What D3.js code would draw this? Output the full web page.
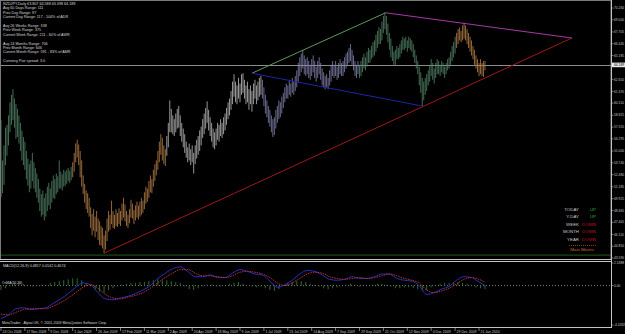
<!DOCTYPE html>
<html><head><meta charset="utf-8">
<script src="https://cdn.jsdelivr.net/npm/d3@7"></script>
<style>
html,body{margin:0;padding:0;background:#000;}
svg{display:block;font-family:"Liberation Sans",Arial,sans-serif;}
</style></head><body>
<script>
// NZDJPY daily, one value per bar
const highs = [
  58.3, 54.0, 55.6, 57.5, 57.8, 58.8, 60.2, 61.0, 61.6, 60.6,
  60.0, 59.5, 58.8, 58.0, 57.2, 56.5, 56.0, 55.0, 54.2, 53.6,
  54.0, 54.8, 53.8, 53.2, 52.6, 52.0, 51.0, 50.4, 50.8, 50.0,
  50.5, 51.2, 51.6, 51.0, 51.8, 52.4, 52.0, 52.6, 52.3, 54.0,
  52.8, 52.5, 53.0, 52.8, 53.0, 53.2, 52.9, 53.3, 53.8, 54.8,
  55.8, 56.2, 55.7, 55.0, 54.0, 52.4, 51.5, 50.8, 50.5, 50.0,
  49.0, 48.3, 48.8, 48.0, 48.6, 47.8, 47.5, 47.0, 46.8, 46.0,
  46.5, 47.8, 48.6, 48.2, 49.7, 48.6, 48.2, 48.8, 48.4, 48.9,
  48.6, 49.4, 50.0, 49.3, 48.6, 48.2, 48.8, 49.8, 49.4, 48.7,
  49.2, 49.6, 49.2, 49.6, 50.0, 49.7, 50.6, 51.2, 51.0, 51.8,
  52.4, 52.0, 53.0, 53.6, 54.0, 55.0, 56.0, 56.8, 56.4, 55.6,
  55.2, 56.6, 58.0, 60.4, 59.5, 58.8, 58.4, 59.0, 59.5, 59.8,
  58.8, 58.0, 57.4, 56.8, 56.0, 55.4, 55.8, 55.2, 55.6, 54.8,
  55.6, 56.2, 56.6, 57.2, 57.6, 58.4, 59.0, 59.6, 60.3, 59.4,
  58.6, 58.0, 57.4, 57.0, 57.4, 58.0, 57.8, 58.4, 58.0, 58.6,
  59.0, 59.6, 60.2, 60.6, 61.4, 62.4, 63.2, 62.4, 62.0, 62.8,
  62.2, 63.2, 63.3, 62.6, 62.0, 62.4, 61.6, 62.0, 61.4, 62.2,
  62.6, 62.0, 62.4, 62.8, 63.0, 62.6, 61.8, 61.0, 60.4, 59.8,
  59.4, 58.8, 58.4, 58.6, 59.4, 59.8, 60.4, 60.2, 60.8, 61.2,
  61.8, 62.2, 62.0, 62.6, 62.2, 62.8, 62.4, 63.0, 63.6, 64.4,
  65.0, 65.4, 65.8, 65.2, 64.8, 65.0, 64.6, 64.2, 64.8, 65.2,
  64.6, 64.0, 64.6, 65.0, 64.4, 63.8, 63.4, 63.0, 63.2, 62.8,
  63.6, 64.2, 64.6, 64.2, 64.6, 64.0, 64.4, 64.8, 64.4, 64.6,
  65.0, 65.4, 65.6, 66.0, 66.4, 65.8, 65.2, 64.6, 64.2, 64.6,
  64.2, 64.6, 65.0, 65.4, 65.0, 65.6, 66.0, 65.8, 66.2, 66.6,
  66.8, 67.4, 67.8, 68.2, 68.0, 68.8, 69.4, 69.8, 69.4, 68.6,
  67.6, 67.0, 66.2, 65.6, 65.8, 66.2, 66.0, 66.4, 66.8, 67.2,
  67.0, 67.2, 66.8, 67.2, 67.0, 66.8, 66.4, 65.8, 65.2, 64.6,
  64.0, 63.4, 62.8, 62.4, 62.8, 63.2, 63.6, 64.2, 64.8, 64.4,
  63.8, 64.4, 64.8, 64.6, 64.2, 64.6, 64.4, 64.0, 64.4, 64.8,
  65.0, 65.6, 66.2, 66.6, 67.2, 67.6, 68.0, 68.2, 67.8, 68.4,
  68.7, 68.4, 68.0, 67.6, 67.2, 66.8, 66.2, 65.8, 65.2, 64.8,
  64.4, 64.8, 64.4, 64.6, 64.6
]
const lows = [
  50.1, 50.5, 51.4, 53.5, 54.5, 55.6, 57.0, 57.8, 58.3, 57.5,
  56.3, 56.5, 55.8, 55.0, 54.0, 53.5, 53.0, 52.0, 51.3, 50.6,
  51.0, 51.8, 51.0, 50.6, 50.0, 49.5, 48.6, 48.0, 48.2, 47.6,
  48.0, 48.6, 49.2, 48.8, 49.5, 50.0, 49.9, 50.4, 50.6, 51.0,
  51.0, 50.8, 51.2, 51.3, 51.5, 51.8, 51.6, 51.9, 52.2, 52.8,
  53.8, 54.3, 53.5, 52.2, 51.2, 50.4, 49.5, 48.8, 48.4, 48.0,
  46.8, 46.0, 46.5, 45.8, 46.4, 45.5, 45.0, 44.9, 44.6, 44.1,
  44.5, 45.4, 46.4, 46.6, 47.2, 46.8, 46.7, 47.0, 46.9, 47.2,
  47.0, 47.6, 47.9, 47.5, 47.0, 46.8, 47.3, 47.9, 47.8, 47.2,
  47.6, 47.9, 47.7, 48.0, 48.2, 48.4, 48.8, 49.4, 49.6, 50.0,
  50.6, 50.5, 51.2, 51.8, 52.4, 53.0, 53.8, 54.6, 54.0, 53.6,
  53.4, 54.5, 55.4, 57.0, 57.0, 56.8, 56.6, 57.0, 57.4, 57.5,
  56.6, 56.0, 55.4, 54.8, 54.3, 53.8, 54.0, 53.5, 53.8, 52.6,
  53.6, 54.2, 54.6, 55.0, 55.6, 56.4, 56.8, 57.4, 58.0, 57.2,
  56.6, 56.0, 55.4, 55.2, 55.6, 56.2, 56.0, 56.6, 56.4, 56.8,
  57.2, 57.8, 58.4, 58.8, 59.4, 60.0, 60.8, 60.2, 60.0, 60.6,
  60.2, 61.0, 61.2, 60.6, 60.0, 60.2, 59.4, 60.0, 59.2, 60.0,
  60.6, 60.0, 60.4, 60.8, 61.0, 60.6, 59.8, 59.0, 58.6, 58.0,
  57.6, 57.0, 56.5, 56.7, 57.4, 58.0, 58.4, 58.6, 59.0, 59.6,
  60.2, 60.6, 60.6, 61.0, 60.8, 61.2, 61.0, 61.4, 61.8, 62.4,
  63.0, 63.4, 63.8, 63.2, 63.0, 63.2, 62.8, 62.6, 63.0, 63.4,
  62.8, 62.4, 62.8, 63.2, 62.6, 62.0, 61.8, 61.6, 61.8, 61.6,
  62.0, 62.4, 63.0, 62.8, 63.0, 62.6, 62.8, 63.2, 63.0, 63.0,
  63.4, 63.8, 64.2, 64.4, 64.6, 64.2, 63.6, 63.0, 62.8, 63.2,
  62.8, 63.0, 63.4, 63.8, 63.6, 64.0, 64.4, 64.4, 64.8, 65.0,
  65.2, 65.6, 66.0, 66.4, 66.4, 66.8, 67.6, 68.0, 67.4, 66.6,
  65.8, 65.0, 64.6, 64.2, 64.2, 64.8, 64.8, 65.0, 65.4, 65.8,
  65.8, 66.0, 65.6, 66.0, 65.8, 65.6, 65.0, 64.4, 63.8, 63.2,
  62.0, 61.2, 59.8, 60.4, 61.0, 61.4, 62.0, 62.4, 63.0, 62.6,
  62.2, 62.8, 63.2, 63.2, 63.0, 63.4, 63.2, 62.8, 63.2, 63.6,
  63.8, 64.2, 64.6, 65.0, 65.4, 66.0, 66.4, 66.8, 66.6, 66.8,
  67.0, 66.8, 66.4, 66.0, 65.6, 65.2, 64.8, 64.2, 63.8, 63.4,
  63.0, 63.2, 63.0, 62.9, 63.6
]
const lastPrice = 64.189
const supportLevel = 43.9

// bar colouring regimes (start bar, state)
const regimeStart = [0, 48, 111, 175, 240, 305]
const regimeState = ['up', 'down', 'range', 'pullback', 'up', 'down']

// trend lines as [bar, price] pairs
const trendRed = [[69, 44.1], [382.2, 67.06]]
const trendPurple = [[257.5, 69.75], [382.2, 67.06]]
const trendGreen = [[168, 63.3], [257.5, 69.75]]
const trendBlue = [[168, 63.3], [282, 59.8]]

// x axis labels, one every 16 bars
const dateLabels = ['24 Oct 2008', '17 Nov 2008', '9 Dec 2008', '1 Jan 2009', '26 Jan 2009',
  '17 Feb 2009', '11 Mar 2009', '2 Apr 2009', '24 Apr 2009', '18 May 2009', '9 Jun 2009',
  '1 Jul 2009', '23 Jul 2009', '14 Aug 2009', '7 Sep 2009', '29 Sep 2009', '21 Oct 2009',
  '12 Nov 2009', '4 Dec 2009', '29 Dec 2009', '21 Jan 2010']
const priceTicks = ['70.260', '69.000', '67.705', '66.445', '65.185', '62.650', '61.370',
  '60.110', '58.815', '57.555', '56.295', '55.000', '53.740', '52.480', '51.185', '49.925',
  '48.665', '47.405', '46.110', '44.850', '43.590']

// MACD readings every 5 bars
const macdBars = [0, 5, 10, 15, 20, 25, 30, 35, 40, 45, 50, 55, 60, 65, 70, 75, 80, 85, 90, 95,
  100, 105, 110, 115, 120, 125, 130, 135, 140, 145, 150, 155, 160, 165, 170, 175, 180, 185, 190, 195,
  200, 205, 210, 215, 220, 225, 230, 235, 240, 245, 250, 255, 260, 265, 270, 275, 280, 285, 290, 295,
  300, 305, 310, 315, 320, 324]
const macdMain = [-3.7, -3.3, -2.6, -2.5, -2.7, -2.6, -2.5, -2.0, -1.5, -0.9,
  -0.2, 0.3, 0.1, -0.8, -1.5, -1.6, -1.4, -1.2, -0.9, -0.5,
  0.0, 0.8, 1.4, 1.9, 2.1, 1.6, 1.0, 1.0, 1.2, 0.9,
  0.9, 1.4, 1.8, 1.6, 1.3, 1.2, 0.5, -0.2, 0.1, 0.6,
  1.3, 1.7, 1.6, 1.2, 0.7, 0.6, 0.7, 1.0, 0.8, 0.8,
  1.0, 1.3, 1.3, 0.8, 0.6, 0.5, 0.0, -1.0, -0.8, -0.4,
  -0.1, 0.6, 1.0, 0.9, 0.4, 0.0]
const macdSignal = [-3.2, -3.3, -3.0, -2.7, -2.6, -2.6, -2.6, -2.3, -1.9, -1.4,
  -0.8, -0.2, 0.1, -0.3, -1.0, -1.4, -1.5, -1.3, -1.1, -0.8,
  -0.3, 0.3, 0.9, 1.4, 1.8, 1.8, 1.4, 1.1, 1.1, 1.0,
  0.9, 1.1, 1.5, 1.6, 1.5, 1.3, 0.9, 0.3, 0.0, 0.3,
  0.8, 1.3, 1.5, 1.4, 1.0, 0.8, 0.7, 0.8, 0.9, 0.8,
  0.9, 1.1, 1.3, 1.1, 0.8, 0.6, 0.3, -0.5, -0.8, -0.6,
  -0.3, 0.2, 0.7, 0.9, 0.7, 0.4]
// histogram readings every 3 bars
const histStep = 3
const macdHist = [-0.5, -0.3, 0.1, 0.4, 0.4, 0.2, 0.0, -0.1, 0.0, 0.1,
  0.1, 0.3, 0.4, 0.5, 0.6, 0.7, 0.8, 0.8, 0.6, 0.3,
  0.0, -0.4, -0.7, -0.8, -0.5, -0.3, -0.1, 0.1, 0.2, 0.3,
  0.3, 0.4, 0.4, 0.5, 0.6, 0.7, 0.6, 0.6, 0.5, 0.4,
  0.3, -0.1, -0.4, -0.5, -0.3, -0.1, 0.1, 0.1, -0.1, -0.1,
  0.0, 0.2, 0.3, 0.4, 0.2, 0.0, -0.1, -0.2, -0.1, -0.3,
  -0.5, -0.6, -0.4, 0.0, 0.3, 0.4, 0.5, 0.5, 0.4, 0.2,
  0.1, -0.1, -0.3, -0.4, -0.3, -0.2, 0.0, 0.1, 0.2, 0.1,
  -0.1, 0.0, 0.0, 0.1, 0.2, 0.2, 0.1, -0.1, -0.3, -0.3,
  -0.2, -0.2, -0.3, -0.4, -0.6, -0.5, -0.2, 0.0, 0.2, 0.3,
  0.3, 0.4, 0.4, 0.3, 0.2, 0.0, -0.2, -0.3, -0.4]

const infoLines = ['NZDJPY,Daily  63.807 64.588 63.398 64.189', 'Avg 60 Days Range: 111',
  'Prev Day Range: 97', 'Current Day Range: 117 - 104% of ADR', '',
  'Avg 26 Weeks Range: 338', 'Prev Week Range: 375', 'Current Week Range: 211 - 60% of AWR', '',
  'Avg 24 Months Range: 706', 'Prev Month Range: 646', 'Current Month Range: 591 - 83% of AMR', '',
  'Currency Pair spread: 3.0']
const periods = ['TODAY', 'Y-DAY', 'WEEK', 'MONTH', 'YEAR']
const periodDir = ['UP', 'UP', 'DOWN', 'DOWN', 'DOWN']

const w = 625
const h = 334
const right = 611
const mainTop = 1
const mainBottom = 259
const subTop = 261
const subBottom = 327

const regimeColor = { up: '#54886a', down: '#b98048', range: '#bcbcbc', pullback: '#8484b0' }
const fg = '#c4c4c4'

const svg = d3.select('body').append('svg')
  .attr('width', w)
  .attr('height', h)

svg.append('rect').attr('width', w).attr('height', h).attr('fill', '#000')

const x = d3.scaleLinear().domain([0, 320]).range([1, 479])
const y = d3.scaleLinear().domain([43.59, 70.26]).range([258, 8])
const ym = d3.scaleLinear().domain([-4.4332, 2.5388]).range([325, 263])

function stateOf (i) {
  let s = regimeState[0]
  regimeStart.forEach((b, k) => { if (i >= b) s = regimeState[k] })
  return s
}

// clip for the two panels
const defs = svg.append('defs')
defs.append('clipPath').attr('id', 'clipMain')
  .append('rect').attr('x', 0).attr('y', mainTop).attr('width', right).attr('height', mainBottom - mainTop)
defs.append('clipPath').attr('id', 'clipSub')
  .append('rect').attr('x', 0).attr('y', subTop).attr('width', right).attr('height', subBottom - subTop)

const main = svg.append('g').attr('clip-path', 'url(#clipMain)')

// horizontal levels
main.append('line')
  .attr('x1', 0).attr('x2', right)
  .attr('y1', y(supportLevel)).attr('y2', y(supportLevel))
  .attr('stroke', '#1e5a1e').attr('stroke-width', 1)

main.append('line')
  .attr('x1', 0).attr('x2', right)
  .attr('y1', Math.round(y(lastPrice)) + 0.5).attr('y2', Math.round(y(lastPrice)) + 0.5)
  .attr('stroke', '#8c8c8c').attr('stroke-width', 1)

// price bars
main.append('g').selectAll('line')
  .data(highs.map((hi, i) => ({ i, hi, lo: lows[i] })))
  .join('line')
  .attr('x1', d => x(d.i)).attr('x2', d => x(d.i))
  .attr('y1', d => y(d.hi)).attr('y2', d => y(d.lo))
  .attr('stroke', d => regimeColor[stateOf(d.i)])
  .attr('stroke-width', 0.8)

// trend lines
const tl = d3.line().x(d => x(d[0])).y(d => y(d[1]))
const trends = [[trendRed, '#a01818'], [trendPurple, '#a838a8'], [trendGreen, '#5c985c'], [trendBlue, '#2222a8']]
trends.forEach(t => {
  main.append('path').attr('d', tl(t[0]))
    .attr('stroke', t[1]).attr('stroke-width', 1).attr('fill', 'none')
})

// info text top-left
svg.append('g').selectAll('text')
  .data(infoLines)
  .join('text')
  .attr('x', 3).attr('y', (d, i) => 5 + i * 4.4)
  .attr('font-size', 3.7).attr('fill', '#d8d8d8')
  .text(d => d)

// TODAY/Y-DAY legend
const lg = svg.append('g').attr('font-size', 4.4)
lg.selectAll('text.p').data(periods).join('text')
  .attr('class', 'p')
  .attr('x', 579).attr('y', (d, i) => 211 + i * 7.4)
  .attr('text-anchor', 'end').attr('fill', '#c8c8c8')
  .text(d => d)
lg.selectAll('text.d').data(periodDir).join('text')
  .attr('class', 'd')
  .attr('x', 596).attr('y', (d, i) => 211 + i * 7.4)
  .attr('text-anchor', 'end')
  .attr('fill', d => d === 'UP' ? '#2fa82f' : '#c41818')
  .text(d => d)
lg.append('line').attr('x1', 569).attr('x2', 597).attr('y1', 245.5).attr('y2', 245.5)
  .attr('stroke', '#d0702a').attr('stroke-width', 0.6).attr('stroke-dasharray', '1,1')
lg.append('text').attr('x', 582).attr('y', 251).attr('text-anchor', 'middle')
  .attr('fill', '#d2682a').text('Main Moves')

// MACD subwindow
const sub = svg.append('g').attr('clip-path', 'url(#clipSub)')
sub.append('line').attr('x1', 0).attr('x2', right)
  .attr('y1', ym(0)).attr('y2', ym(0))
  .attr('stroke', '#9a9a9a').attr('stroke-width', 0.8).attr('stroke-dasharray', '1,2')

sub.append('g').selectAll('line')
  .data(macdHist)
  .join('line')
  .attr('x1', (d, i) => x(i * histStep)).attr('x2', (d, i) => x(i * histStep))
  .attr('y1', ym(0)).attr('y2', d => ym(d))
  .attr('stroke', '#2c6e2c').attr('stroke-width', 1)

const ml = d3.line().x((d, i) => x(macdBars[i])).y(d => ym(d)).curve(d3.curveMonotoneX)
sub.append('path').attr('d', ml(macdMain))
  .attr('stroke', '#2a30c0').attr('stroke-width', 1).attr('fill', 'none')
sub.append('path').attr('d', ml(macdSignal))
  .attr('stroke', '#c03030').attr('stroke-width', 1).attr('fill', 'none')
  .attr('stroke-dasharray', '1.5,1')

svg.append('text').attr('x', 3).attr('y', 267)
  .attr('font-size', 3.7).attr('fill', '#d8d8d8')
  .text('MACD(12,26,9) 0.4817 0.0142 0.4674')
svg.append('text').attr('x', 2).attr('y', 284)
  .attr('font-size', 3.4).attr('fill', '#d8d8d8')
  .text('OsMA(12,26)')
svg.append('text').attr('x', 2).attr('y', 324)
  .attr('font-size', 3.6).attr('fill', '#d8d8d8')
  .text('MetaTrader - Alpari UK, \u00a9 2001-2009 MetaQuotes Software Corp.')

// frames
const frame = svg.append('g').attr('stroke', fg).attr('fill', 'none').attr('stroke-width', 1)
frame.append('rect').attr('x', 0.5).attr('y', 0.5).attr('width', right - 0.5).attr('height', mainBottom)
  .attr('stroke', '#7a7a7a')
frame.append('line').attr('x1', 0).attr('x2', right).attr('y1', mainBottom + 0.5).attr('y2', mainBottom + 0.5)
frame.append('line').attr('x1', 0).attr('x2', right).attr('y1', subTop + 0.5).attr('y2', subTop + 0.5)
frame.append('line').attr('x1', right + 0.5).attr('x2', right + 0.5).attr('y1', 0).attr('y2', subBottom + 0.5)
frame.append('line').attr('x1', 0).attr('x2', right + 1).attr('y1', subBottom + 0.5).attr('y2', subBottom + 0.5)

// right price axis
const ax = svg.append('g').attr('font-size', 3.3).attr('fill', fg)
priceTicks.forEach(t => {
  const v = +t
  ax.append('line').attr('x1', right).attr('x2', right + 2.5).attr('y1', y(v)).attr('y2', y(v))
    .attr('stroke', fg).attr('stroke-width', 0.6)
  ax.append('text').attr('x', 614).attr('y', y(v) + 1.2).text(t)
})
ax.append('rect').attr('x', 612).attr('y', y(lastPrice) - 2.3).attr('width', 13).attr('height', 4.6)
  .attr('fill', '#e8e8e8')
ax.append('text').attr('x', 614).attr('y', y(lastPrice) + 1.2).attr('fill', '#000').text(lastPrice.toFixed(3))

const macdTicks = [2.5388, 0, -4.4332]
const macdTickText = ['2.5388', '0.00', '-4.4332']
macdTicks.forEach((v, k) => {
  ax.append('line').attr('x1', right).attr('x2', right + 2.5).attr('y1', ym(v)).attr('y2', ym(v))
    .attr('stroke', fg).attr('stroke-width', 0.6)
  ax.append('text').attr('x', 614).attr('y', ym(v) + 1.2).text(macdTickText[k])
})

// bottom date axis
const xa = svg.append('g').attr('font-size', 3.5).attr('fill', fg)
dateLabels.forEach((t, k) => {
  const px = x(k * 16)
  xa.append('line').attr('x1', px).attr('x2', px).attr('y1', subBottom).attr('y2', 331)
    .attr('stroke', fg).attr('stroke-width', 0.6)
  xa.append('text').attr('x', px + 1.5).attr('y', 332.5).text(t)
})
</script></body></html>
